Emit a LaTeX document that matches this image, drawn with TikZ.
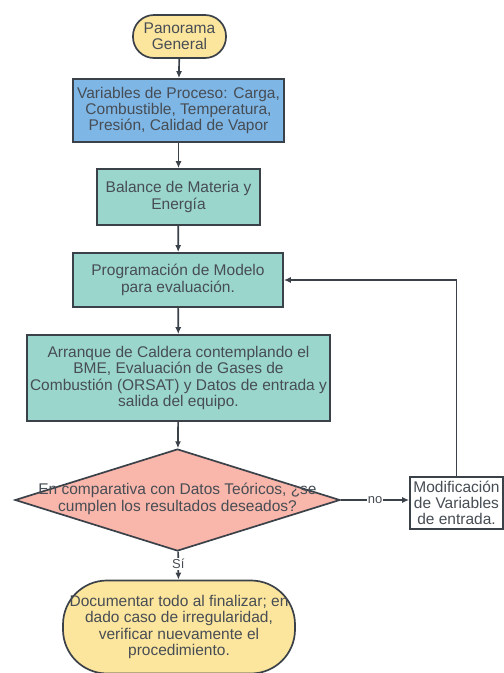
\documentclass[tikz,border=0pt]{standalone}
\usepackage{fontspec}
\setmainfont{Liberation Sans}
\usetikzlibrary{shapes.geometric,arrows.meta}
\definecolor{lineGray}{HTML}{3B4149}
\definecolor{textGray}{HTML}{474D54}
\definecolor{startYellow}{HTML}{FCE59D}
\definecolor{varBlue}{HTML}{7EB6E6}
\definecolor{procTeal}{HTML}{9AD6CB}
\definecolor{decPink}{HTML}{F9B6AB}
\tikzset{
	base/.style={draw=lineGray, line width=1.7pt, text=textGray, align=center, inner sep=0pt,
		font=\fontsize{15.5}{16.3}\selectfont},
	terminal/.style={base, rectangle, fill=startYellow},
	process/.style={base, rectangle, fill=procTeal},
	flow/.style={draw=lineGray, line width=1.7pt, -{Latex[length=7pt,width=6pt]}},
	tag/.style={fill=white, inner sep=1pt, text=textGray, font=\fontsize{13}{15}\selectfont}
}
\begin{document}
\begin{tikzpicture}[x=1pt,y=-1pt]
	\useasboundingbox (0,0) rectangle (504,673);
	\node (PG) at (179.5, 36.5)	[terminal, rounded corners=21pt, minimum width=93pt, minimum height=43pt]	{Panorama\\General};
	\node (VP) at (178.5, 110.5)	[base, rectangle, fill=varBlue, minimum width=211pt, minimum height=63pt]	{Variables de Proceso: Carga,\\Combustible, Temperatura,\\Presión, Calidad de Vapor};
	\node (BM) at (178.5, 197)	[process, minimum width=163pt, minimum height=56pt]	{Balance de Materia y\\Energía};
	\node (PM) at (178, 280)	[process, minimum width=210pt, minimum height=54pt]	{Programación de Modelo\\para evaluación.};
	\node (AC) at (178.5, 378)	[process, minimum width=303pt, minimum height=86pt]	{Arranque de Caldera contemplando el\\BME, Evaluación de Gases de\\Combustión (ORSAT) y Datos de entrada y\\salida del equipo.};
	\node (CD) at (177.5, 500)	[base, diamond, fill=decPink, minimum width=325pt, minimum height=102pt]	{};
	\node (CDtxt) at (177.5, 499)	[text=textGray, align=center, inner sep=0pt, font=\fontsize{15.5}{16.3}\selectfont]	{En comparativa con Datos Teóricos, ¿se\\cumplen los resultados deseados?};
	\node (MV) at (456.5, 503)	[base, rectangle, fill=white, minimum width=93pt, minimum height=52pt]	{Modificación\\de Variables\\de entrada.};
	\node (DT) at (179, 627)	[terminal, rounded corners=44pt, minimum width=232pt, minimum height=93pt]	{Documentar todo al finalizar; en\\dado caso de irregularidad,\\verificar nuevamente el\\procedimiento.};
	\coordinate (corner) at (MV.north |- PM.east);

	\draw[flow] (PG) -- (VP);
	\draw[flow] (VP) -- (BM);
	\draw[flow] (BM) -- (PM);
	\draw[flow] (PM) -- (AC);
	\draw[flow] (AC) -- (CD);
	\draw[flow] (CD.east) -- node[tag] {no} (CD.east -| MV.west);
	\draw[flow] (CD) -- node[tag, pos=0.45] {Sí} (DT);
	\draw[flow] (MV.north) -- (corner) -- (PM.east);
\end{tikzpicture}
\end{document}
